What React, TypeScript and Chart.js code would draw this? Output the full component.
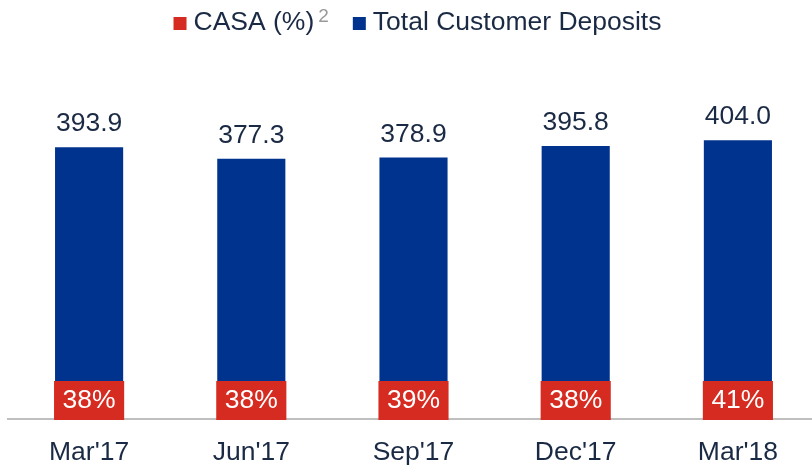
import React, { useEffect, useRef } from "react";
import { Chart, registerables } from "chart.js";

Chart.register(...registerables);

const categories = ["Mar'17", "Jun'17", "Sep'17", "Dec'17", "Mar'18"];
const deposits = [393.9, 377.3, 378.9, 395.8, 404.0];
const casa = [38, 38, 39, 38, 41];
const depositLabels = ["393.9", "377.3", "378.9", "395.8", "404.0"];

const BLUE = "#00338d";
const RED = "#d52b20";
const TEXT = "#1b2a44";
const FONT = "'Liberation Sans', Arial, sans-serif";
const FS = 26.5;

const overlayPlugin = {
  id: "overlay",
  afterDatasetsDraw(chart: any) {
    const ctx = chart.ctx;
    const meta = chart.getDatasetMeta(0);
    const area = chart.chartArea;
    ctx.save();
    meta.data.forEach((bar: any, i: number) => {
      ctx.font = `${FS}px ${FONT}`;
      ctx.fillStyle = TEXT;
      ctx.textAlign = "center";
      ctx.textBaseline = "alphabetic";
      ctx.fillText(depositLabels[i], bar.x, bar.y - 16);
      const w = bar.width + 2;
      const h = 38;
      ctx.fillStyle = RED;
      ctx.fillRect(bar.x - w / 2, area.bottom - h, w, h + 1);
      ctx.fillStyle = "#ffffff";
      ctx.textBaseline = "middle";
      ctx.fillText(casa[i] + "%", bar.x, area.bottom - h / 2 + 1);
    });
    // legend
    const LF = 26.5;
    ctx.textBaseline = "alphabetic";
    ctx.textAlign = "left";
    ctx.font = `${LF}px ${FONT}`;
    const t1 = "CASA (%)";
    const t2 = "Total Customer Deposits";
    const w1 = ctx.measureText(t1).width;
    const w2 = ctx.measureText(t2).width;
    ctx.font = `19px ${FONT}`;
    const ws = ctx.measureText("2").width;
    const total = 13 + 7 + w1 + 4 + ws + 24 + 13 + 7 + w2;
    let x = (area.left + area.right) / 2 + 4 - total / 2;
    const base = 30;
    ctx.fillStyle = RED;
    ctx.fillRect(x, base - 13, 13, 13);
    x += 20;
    ctx.font = `${LF}px ${FONT}`;
    ctx.fillStyle = TEXT;
    ctx.fillText(t1, x, base);
    x += w1 + 4;
    ctx.font = `19px ${FONT}`;
    ctx.fillStyle = "#9a9a9a";
    ctx.fillText("2", x, base - 8);
    x += ws + 24;
    ctx.fillStyle = BLUE;
    ctx.fillRect(x, base - 13, 13, 13);
    x += 20;
    ctx.font = `${LF}px ${FONT}`;
    ctx.fillStyle = TEXT;
    ctx.fillText(t2, x, base);
    ctx.restore();
  },
};

export default function App() {
  const ref = useRef<HTMLCanvasElement>(null);
  useEffect(() => {
    if (!ref.current) return;
    const chart = new Chart(ref.current, {
      type: "bar",
      data: {
        labels: categories,
        datasets: [
          {
            label: "Total Customer Deposits",
            data: deposits,
            backgroundColor: BLUE,
            categoryPercentage: 1,
            barPercentage: 0.42,
          },
        ],
      },
      options: {
        animation: false,
        responsive: false,
        layout: { padding: { top: 74, left: 8, right: 11, bottom: 0 } },
        plugins: { legend: { display: false }, tooltip: { enabled: false } },
        scales: {
          x: {
            grid: { display: false, drawTicks: false },
            border: { display: true, color: "#bfbfbf", width: 2 },
            ticks: { color: TEXT, font: { size: FS, family: FONT }, padding: 18 },
            afterFit(scale: any) {
              scale.height = 46;
            },
          },
          y: { display: false, min: 0, max: 500 },
        },
      },
      plugins: [overlayPlugin],
    });
    return () => chart.destroy();
  }, []);
  return (
    <div style={{ position: "absolute", left: 0, top: 0, width: 812, height: 465, overflow: "hidden", background: "#fff" }}>
      <canvas ref={ref} width={830} height={465} style={{ display: "block" }} />
    </div>
  );
}
